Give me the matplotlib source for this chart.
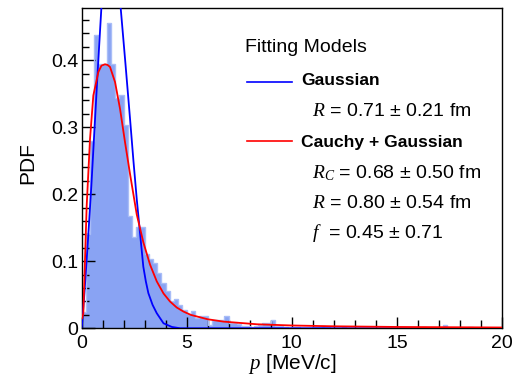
import numpy as np
import matplotlib
matplotlib.use("Agg")
import matplotlib.pyplot as plt
from matplotlib.lines import Line2D
from matplotlib.ticker import MultipleLocator, FuncFormatter

# histogram of p, 100 bins of 0.2 MeV/c between 0 and 20
bin_lo, bin_hi, n_bins = 0.0, 20.0, 100
counts = [
    0.025, 0.14, 0.28, 0.437, 0.394, 0.395, 0.455, 0.395, 0.343, 0.348,
    0.303, 0.168, 0.136, 0.151, 0.151, 0.111, 0.104, 0.098, 0.083, 0.068,
    0.055, 0.040, 0.044, 0.035, 0.027, 0.021, 0.026, 0.016, 0.018, 0.018,
    0.005, 0.013, 0.013, 0.013, 0.019, 0.008, 0.008, 0.007, 0.003, 0.004,
    0.002, 0.003, 0.005, 0.008, 0.008, 0.0125, 0.003, 0.004, 0.002, 0.001,
    0.002, 0.002, 0.001, 0.0, 0.001, 0.002, 0.002, 0.003, 0.002, 0.001,
    0.0, 0.001, 0.002, 0.001, 0.0, 0.001, 0.001, 0.0, 0.001, 0.0,
    0.001, 0.0, 0.001, 0.001, 0.0, 0.0, 0.001, 0.0, 0.0, 0.001,
    0.0, 0.002, 0.0, 0.001, 0.0, 0.0, 0.005, 0.0, 0.001, 0.0,
    0.0, 0.001, 0.002, 0.0, 0.0, 0.001, 0.0, 0.0, 0.0, 0.0,
]

# fit curves
gauss_p = [0.0, 0.024, 0.15, 0.31, 0.468, 0.627, 0.786, 0.944, 1.1, 1.4, 1.7, 1.865,
           2.09, 2.31, 2.47, 2.63, 2.79, 2.94, 3.06, 3.18, 3.38, 3.58, 3.9, 4.3, 4.7, 5.5, 20.0]
gauss_v = [0.0, 0.005, 0.0575, 0.1325, 0.2125, 0.3025, 0.3925, 0.4775, 0.55, 0.6, 0.55, 0.4775,
           0.395, 0.312, 0.25, 0.192, 0.14, 0.092, 0.07, 0.0525, 0.035, 0.0225, 0.0075, 0.002, 0.0, 0.0, 0.0]

cg_p = [0.03, 0.087, 0.246, 0.405, 0.563, 0.802, 0.95, 1.119, 1.24, 1.357, 1.595, 1.833, 2.071,
        2.31, 2.627, 2.944, 3.26, 3.58, 3.9, 4.21, 4.53, 4.85, 5.2, 6.0, 6.75, 8.35, 10.0, 12.0, 15.0, 20.0]
cg_v = [0.015, 0.0225, 0.1825, 0.2825, 0.3475, 0.3825, 0.392, 0.394, 0.393, 0.39, 0.3675, 0.3275, 0.2775,
        0.23, 0.17, 0.128, 0.095, 0.07, 0.052, 0.04, 0.031, 0.025, 0.02, 0.0135, 0.01, 0.006, 0.0042, 0.003, 0.002, 0.0012]

legend_title = "Fitting Models"
model_names = ["Gaussian", "Cauchy + Gaussian"]
gauss_pars = ["$R$ = 0.71 ± 0.21 fm"]
cg_pars = ["$R_C$ = 0.68 ± 0.50 fm", "$R$ = 0.80 ± 0.54 fm", "$f$  = 0.45 ± 0.71"]

plt.rcParams['font.family'] = ['Liberation Sans', 'DejaVu Sans']
plt.rcParams['mathtext.fontset'] = 'custom'
plt.rcParams['mathtext.rm'] = 'Liberation Serif'
plt.rcParams['mathtext.it'] = 'Liberation Serif:italic'

W, H = 522, 377
fig = plt.figure(figsize=(W / 100, H / 100), dpi=100)
ax = fig.add_axes([81.5 / W, 1 - 328.3 / H, 420.5 / W, 320.3 / H])

edges = np.linspace(bin_lo, bin_hi, n_bins + 1)
ax.stairs(counts, edges, fill=True, color='#89a3f3', zorder=1)
ax.stairs(counts, edges, color='#a9bdf7', lw=1.0, zorder=2)

ax.plot(gauss_p, gauss_v, color='#0000ff', lw=1.3, zorder=3)
ax.plot(cg_p, cg_v, color='#ff0000', lw=1.3, zorder=3)

ax.set_xlim(0, 20)
ax.set_ylim(0, 0.478)
ax.xaxis.set_major_locator(MultipleLocator(5))
ax.xaxis.set_minor_locator(MultipleLocator(1))
ax.yaxis.set_major_locator(MultipleLocator(0.1))
ax.yaxis.set_minor_locator(MultipleLocator(0.02))
ax.yaxis.set_major_formatter(FuncFormatter(lambda v, _: "0" if abs(v) < 1e-9 else f"{v:.1f}"))
ax.tick_params(which='both', direction='in', top=False, right=False, labelsize=14, width=1.0)
ax.tick_params(axis='y', which='major', length=9.5, pad=2.5)
ax.tick_params(axis='y', which='minor', length=4.8)
ax.tick_params(axis='x', which='major', length=8, pad=5)
ax.tick_params(axis='x', which='minor', length=5.5)
for s in ax.spines.values():
    s.set_linewidth(1.0)

ax.set_ylabel("PDF", fontsize=15, va='center')
ax.yaxis.set_label_coords((28 - 81.5) / 420.5, 0.516)
ax.set_xlabel("$p$ [MeV/c]", fontsize=15, va='center')
ax.xaxis.set_label_coords((292.5 - 81.5) / 420.5, (328.3 - 364) / 320.3)

def fx(x):
    return x / W

def fy(y):
    return 1 - y / H

fig.text(fx(245), fy(48), legend_title, fontsize=14, va='center', ha='left')
fig.add_artist(Line2D([fx(247), fx(292)], [fy(81.7), fy(81.7)], color='#0000ff', lw=1.2))
fig.text(fx(301), fy(80.7), model_names[0], fontsize=12.6, fontweight='bold', va='center')
fig.text(fx(311.5), fy(111.7), gauss_pars[0], fontsize=14, va='center')
fig.add_artist(Line2D([fx(247), fx(292)], [fy(141), fy(141)], color='#ff0000', lw=1.2))
fig.text(fx(301), fy(142.3), model_names[1], fontsize=12.6, fontweight='bold', va='center')
for txt, yy in zip(cg_pars, [173.3, 203.3, 233.3]):
    fig.text(fx(311.5), fy(yy), txt, fontsize=14, va='center')

fig.savefig("out.png", dpi=100)
